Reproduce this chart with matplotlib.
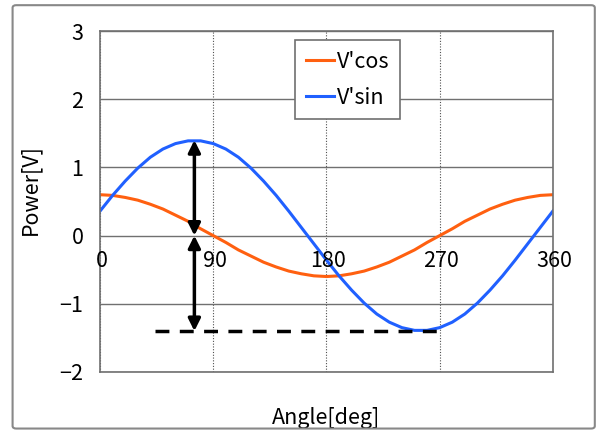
import matplotlib.pyplot as plt
from matplotlib.patches import FancyBboxPatch

# angle in degrees, values every 10 deg
angle = list(range(0, 361, 10))
v_cos = [0.60, 0.59, 0.56, 0.52, 0.46, 0.39, 0.30, 0.21, 0.10, 0.00,
         -0.10, -0.21, -0.30, -0.39, -0.46, -0.52, -0.56, -0.59, -0.60,
         -0.59, -0.56, -0.52, -0.46, -0.39, -0.30, -0.21, -0.10, 0.00,
         0.10, 0.21, 0.30, 0.39, 0.46, 0.52, 0.56, 0.59, 0.60]
v_sin = [0.36, 0.59, 0.80, 0.99, 1.15, 1.27, 1.35, 1.39, 1.39, 1.35,
         1.27, 1.15, 0.99, 0.80, 0.59, 0.36, 0.12, -0.12, -0.36,
         -0.59, -0.80, -0.99, -1.15, -1.27, -1.35, -1.39, -1.39, -1.35,
         -1.27, -1.15, -0.99, -0.80, -0.59, -0.36, -0.12, 0.12, 0.36]

x_ticks = [0, 90, 180, 270, 360]
y_ticks = [-2, -1, 0, 1, 2, 3]

# annotation: amplitude arrows and dashed level
arrow_x = 75
peak = 1.4
dash_x = [44, 272]

plt.rcParams['font.family'] = ['Noto Sans CJK JP', 'DejaVu Sans']
FS = 15.5

fig = plt.figure(figsize=(5.99, 4.32), dpi=100)
ax = fig.add_axes([0.167, 0.139, 0.756, 0.789])

# outer frame
frame = FancyBboxPatch((0.021, 0.008), 0.972, 0.980, boxstyle="round,pad=0,rounding_size=0.006",
                       transform=fig.transFigure, fill=False, edgecolor='#888888', lw=1.5)
fig.patches.append(frame)

ax.plot(angle, v_cos, color='#ff6010', lw=2.2, label="V'cos")
ax.plot(angle, v_sin, color='#2060ff', lw=2.2, label="V'sin")

ax.set_xlim(0, 360)
ax.set_ylim(-2, 3)
ax.set_xticks(x_ticks)
ax.set_yticks(y_ticks)
ax.set_yticklabels(['\u22122', '\u22121', '0', '1', '2', '3'])
ax.tick_params(length=0, labelsize=FS, pad=12)
ax.set_xticklabels([])

for t in x_ticks:
    ax.annotate(str(t), (t, 0), xytext=(1, -10), textcoords='offset points',
                ha='center', va='top', fontsize=FS)

ax.grid(axis='y', color='#707070', lw=1)
ax.grid(axis='x', color='#505050', lw=0.8, ls=(0, (1, 1.5)))
for s in ax.spines.values():
    s.set_color('#707070')
    s.set_linewidth(1.2)

# arrows
arr = dict(arrowstyle='<|-|>', color='black', lw=2.5, mutation_scale=18, shrinkA=0, shrinkB=0)
ax.annotate('', xy=(arrow_x, peak), xytext=(arrow_x, 0), arrowprops=arr)
ax.annotate('', xy=(arrow_x, -peak), xytext=(arrow_x, 0), arrowprops=arr)
ax.plot(dash_x, [-peak, -peak], color='black', lw=2.5, ls=(0, (4, 3)))

ax.set_xlabel('Angle[deg]', fontsize=FS)
ax.set_ylabel('Power[V]', fontsize=FS)
ax.xaxis.set_label_coords(0.499, -0.103)
ax.yaxis.set_label_coords(-0.13, 0.534)

leg = ax.legend(loc='upper left', bbox_to_anchor=(0.430, 0.974), fontsize=FS,
                handlelength=1.3, handletextpad=0.15, labelspacing=0.65,
                fancybox=False, edgecolor='#707070', framealpha=1,
                borderpad=0.5, borderaxespad=0)
leg.get_frame().set_linewidth(1.2)

fig.savefig('out.png', dpi=100)
